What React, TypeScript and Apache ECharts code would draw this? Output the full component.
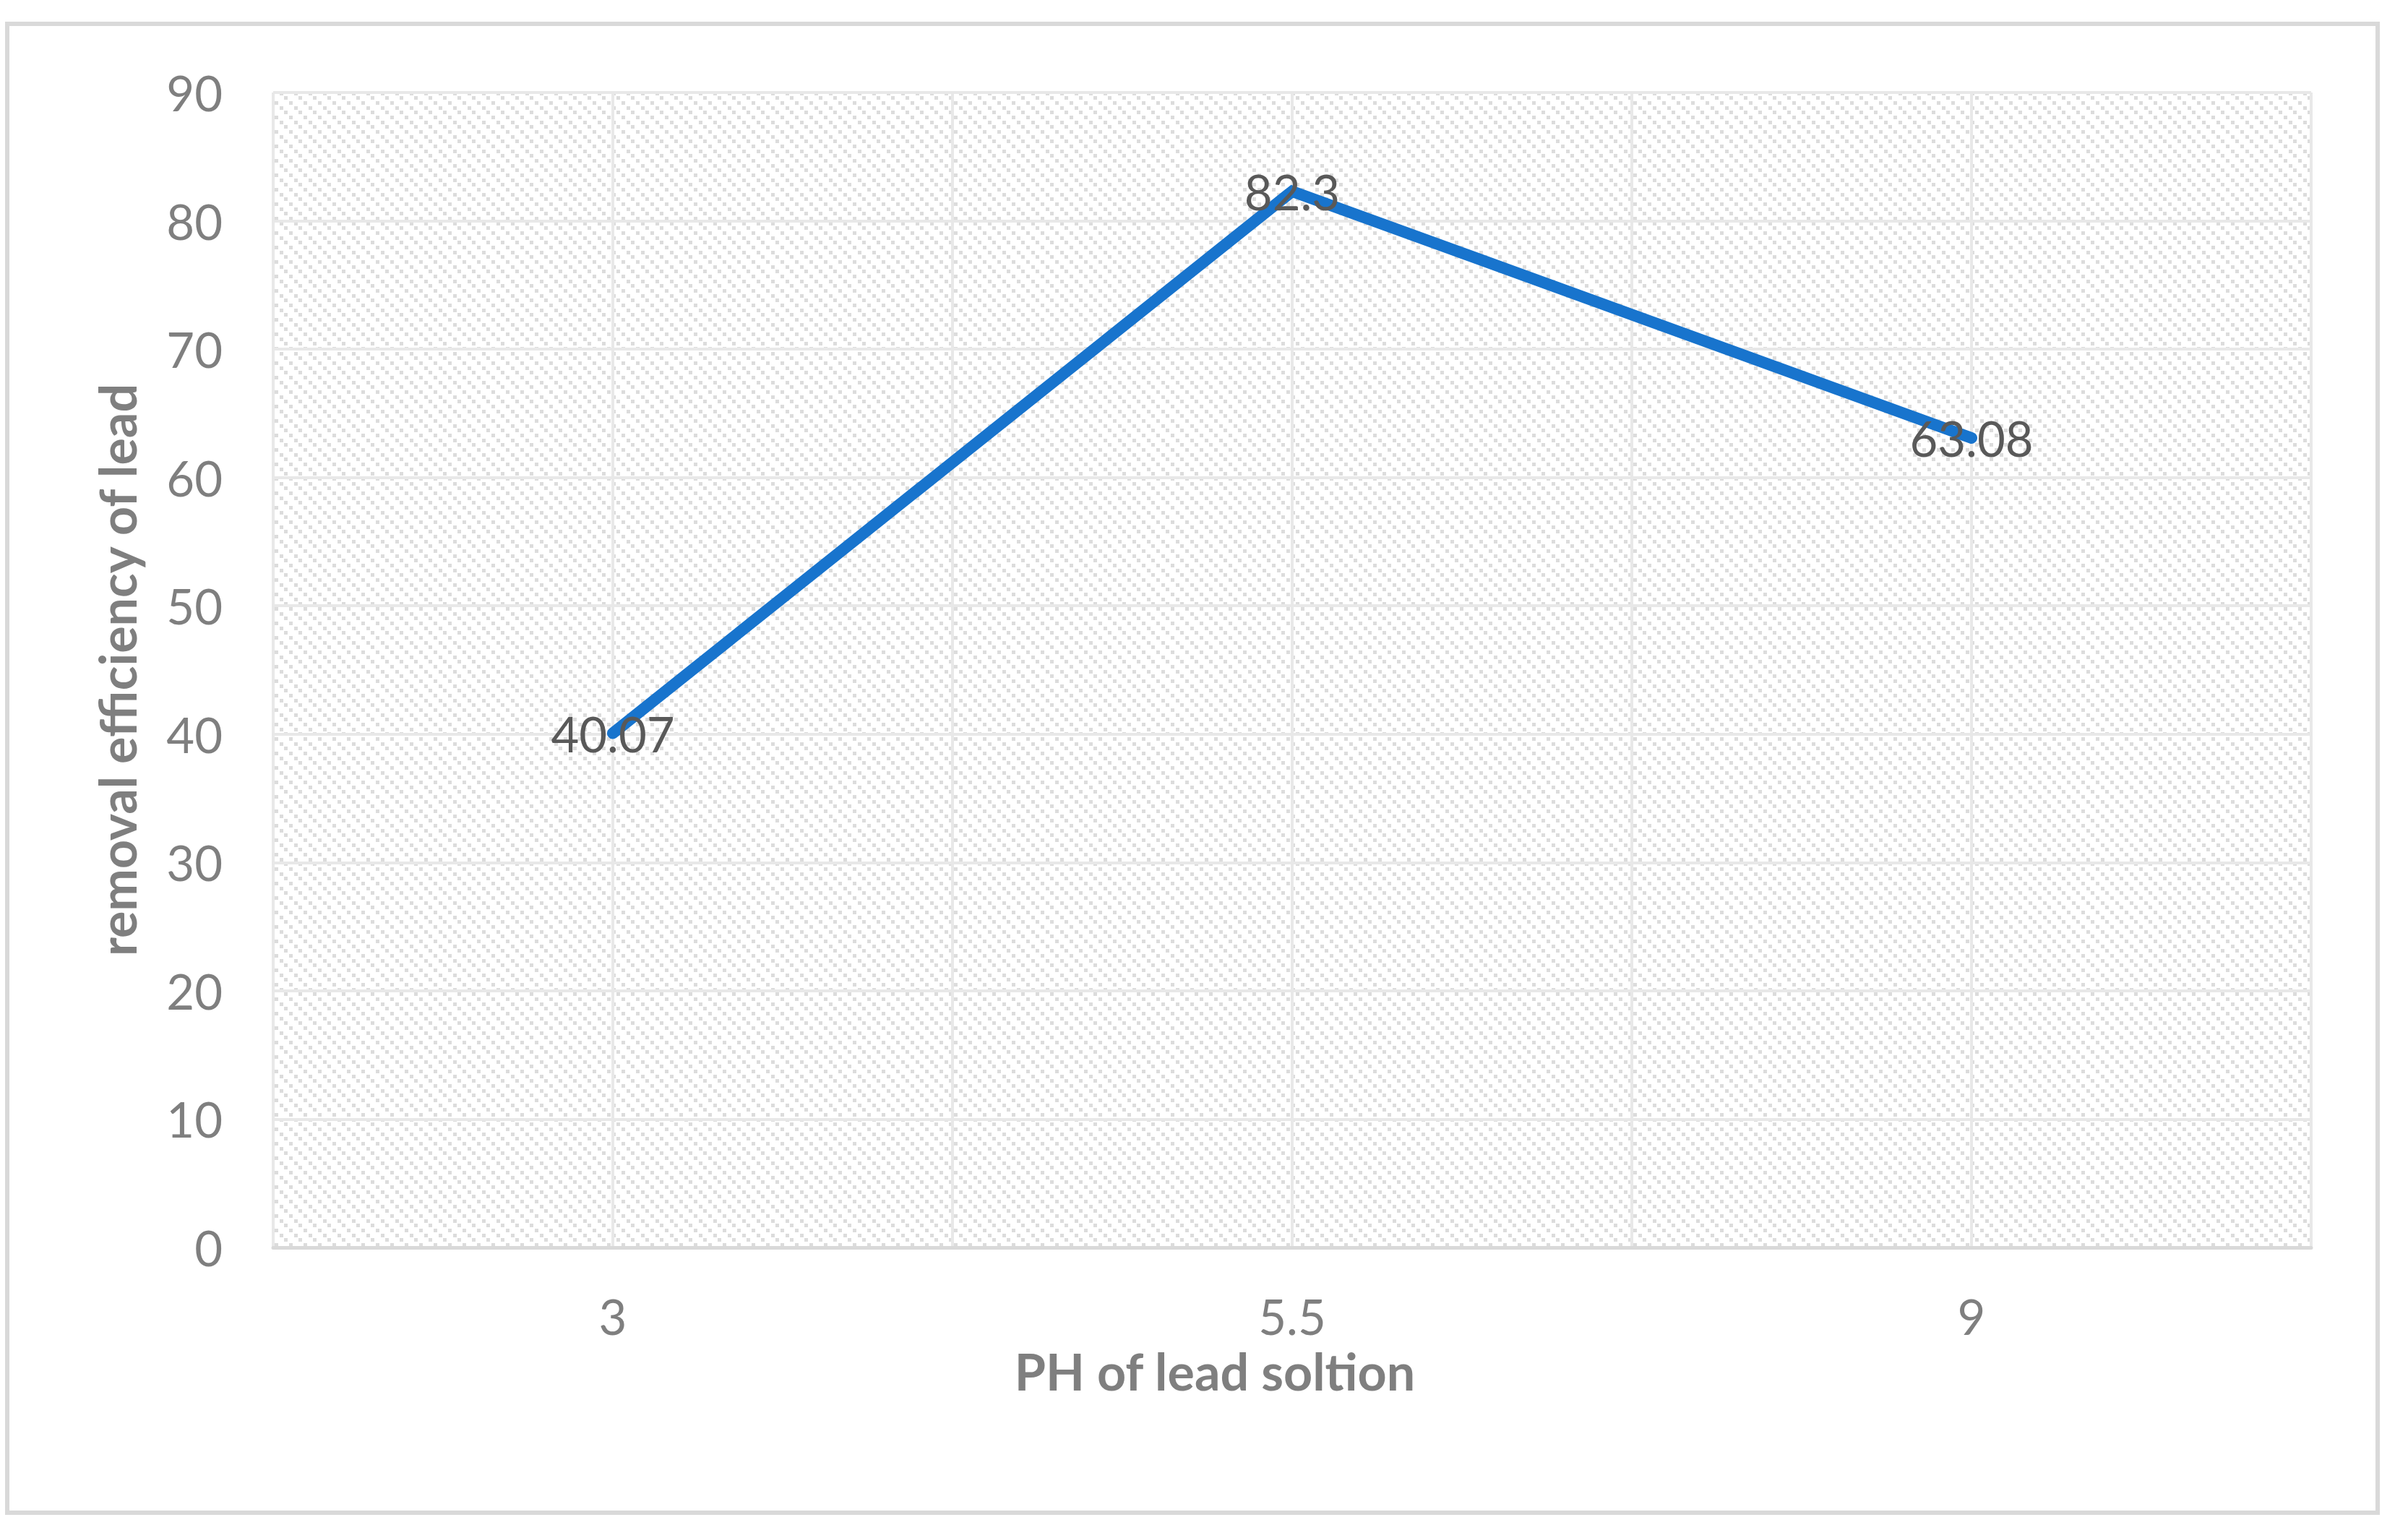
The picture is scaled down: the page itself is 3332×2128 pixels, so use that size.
import React, { useEffect, useRef } from "react";
import * as echarts from "echarts";

const categories = ["3", "5.5", "9"];
const removalEfficiency = [40.07, 82.3, 63.08];
const yTicks = { min: 0, max: 90, interval: 10 };
const xTitle = "PH of lead soltion";
const yTitle = "removal efficiency of lead";

function makePattern() {
  const size = 20;
  const c = document.createElement("canvas");
  c.width = size;
  c.height = size;
  const ctx = c.getContext("2d")!;
  ctx.fillStyle = "#ffffff";
  ctx.fillRect(0, 0, size, size);
  ctx.fillStyle = "#dcdcdc";
  const pos = [0, 7, 13];
  pos.forEach((p) => ctx.fillRect(p, p, 5, 5));
  return { image: c.toDataURL(), repeat: "repeat", imageWidth: size, imageHeight: size };
}

export default function App() {
  const ref = useRef<HTMLDivElement>(null);
  useEffect(() => {
    if (!ref.current) return;
    const chart = echarts.init(ref.current, undefined, { renderer: "svg" });
    const font = "Lato";
    const gridLine = { show: true, lineStyle: { color: "#e8e8e8", width: 4 } };
    chart.setOption({
      animation: false,
      backgroundColor: "#ffffff",
      graphic: [
        {
          type: "rect",
          shape: { x: 10, y: 33, width: 3280, height: 2060 },
          style: { fill: "none", stroke: "#d9d9d9", lineWidth: 6 },
          z: -10,
        },
        {
          type: "text",
          x: 1681,
          y: 1897,
          style: {
            text: xTitle,
            align: "center",
            verticalAlign: "middle",
            fill: "#7f7f7f",
            fontFamily: font,
            fontWeight: "bold",
            fontSize: 70,
          },
        },
      ],
      grid: {
        left: 378,
        right: 134,
        top: 128,
        bottom: 402,
        show: true,
        borderWidth: 0,
        backgroundColor: makePattern(),
      },
      xAxis: [
        {
          type: "category",
          data: categories,
          boundaryGap: true,
          axisLine: { show: true, lineStyle: { color: "#d9d9d9", width: 5 } },
          axisTick: { show: false },
          splitLine: { show: false },
          axisLabel: {
            color: "#7f7f7f",
            fontFamily: font,
            fontSize: 67,
            lineHeight: 80,
            margin: 55,
          },
          z: 5,
        },
        {
          type: "value",
          min: 0,
          max: 6,
          interval: 1,
          position: "bottom",
          axisLine: { show: false },
          axisTick: { show: false },
          axisLabel: { show: false },
          splitLine: gridLine,
        },
      ],
      yAxis: {
        type: "value",
        min: yTicks.min,
        max: yTicks.max,
        interval: yTicks.interval,
        axisLine: { show: false },
        axisTick: { show: false },
        splitLine: gridLine,
        axisLabel: {
          color: "#7f7f7f",
          fontFamily: font,
          fontSize: 67,
          margin: 70,
        },
        name: yTitle,
        nameLocation: "middle",
        nameGap: 176,
        nameTextStyle: {
          color: "#7f7f7f",
          fontFamily: font,
          fontWeight: "bold",
          fontSize: 70,
          lineHeight: 80,
        },
      },
      series: [
        {
          type: "line",
          xAxisIndex: 0,
          data: removalEfficiency,
          symbol: "circle",
          symbolSize: 1,
          itemStyle: { color: "rgba(0,0,0,0)" },
          lineStyle: { color: "#1874cd", width: 16, cap: "round", join: "miter" },
          label: {
            show: true,
            position: "inside",
            color: "#595959",
            fontFamily: font,
            fontSize: 67,
          },
          z: 10,
        },
      ],
    });
    return () => chart.dispose();
  }, []);
  return (
    <div
      ref={ref}
      style={{ position: "fixed", left: 0, top: 0, width: 3332, height: 2128, background: "#fff" }}
    />
  );
}
